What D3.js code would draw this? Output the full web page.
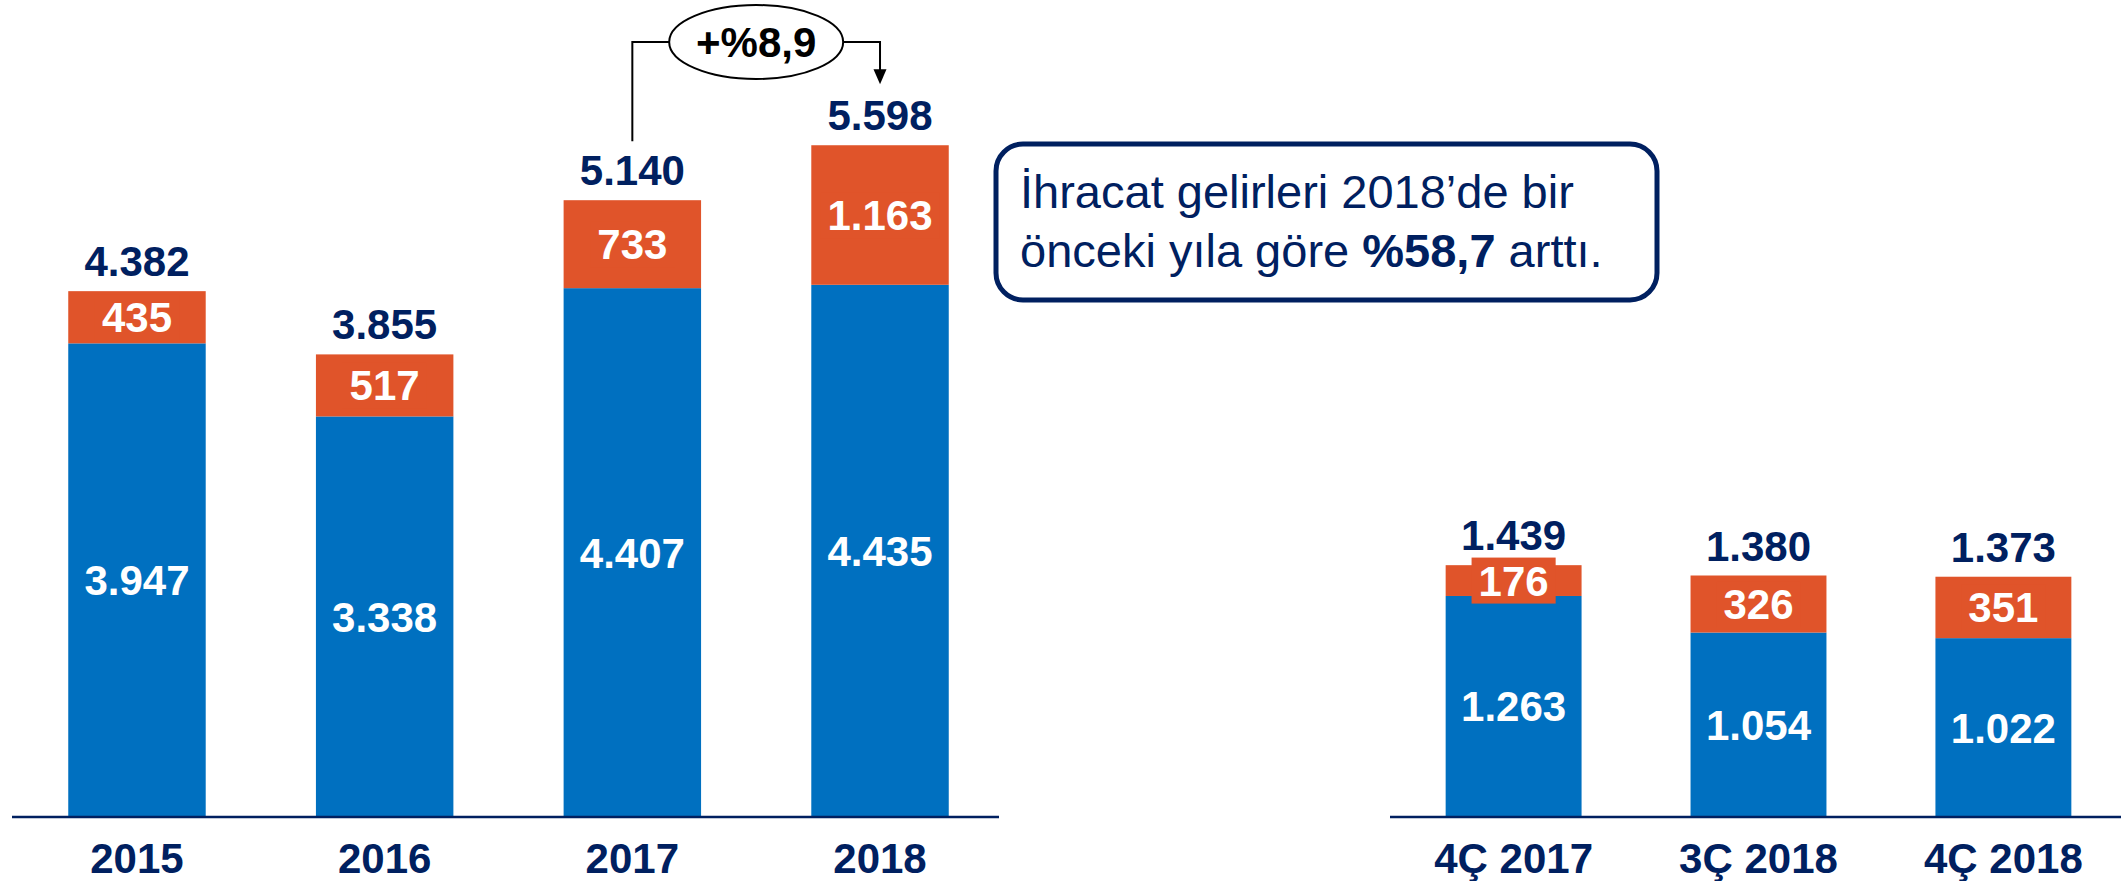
<!DOCTYPE html>
<html>
<head>
<meta charset="utf-8">
<script src="https://cdn.jsdelivr.net/npm/d3@7"></script>
<style>
  body { margin: 0; background: #fff; }
  svg text { font-family: "Liberation Sans", Arial, sans-serif; }
</style>
</head>
<body>
<div id="chart"></div>
<script>
// Yearly data
const years = ['2015', '2016', '2017', '2018']
const yearBlue = [3947, 3338, 4407, 4435]
const yearOrange = [435, 517, 733, 1163]
const yearTotal = [4382, 3855, 5140, 5598]

// Quarterly data
const quarters = ['4Ç 2017', '3Ç 2018', '4Ç 2018']
const quarterBlue = [1263, 1054, 1022]
const quarterOrange = [176, 326, 351]
const quarterTotal = [1439, 1380, 1373]

// Annotations
const growthLabel = '+%8,9'
const noteLine1 = 'İhracat gelirleri 2018’de bir'
const noteLine2 = ['önceki yıla göre ', '%58,7', ' arttı.']

const width = 2121
const height = 881
const navy = '#002060'
const blue = '#0070C0'
const orange = '#E0542A'
const baseline = 817

const tr = d3.formatLocale({decimal: ',', thousands: '.', grouping: [3], currency: ['', '']})
const fmt = tr.format(',')

const svg = d3.select('#chart').append('svg')
    .attr('width', width)
    .attr('height', height)

function drawPanel(cats, blueVals, orangeVals, totals, xRange, yScale, lineRange) {
    let x = d3.scaleBand()
        .domain(cats)
        .range(xRange)
        .paddingInner(0.445)
        .paddingOuter(0.215)

    let g = svg.append('g')
    let rows = cats.map((c, i) => ({cat: c, blue: blueVals[i], orange: orangeVals[i], total: totals[i]}))

    // blue segments
    g.selectAll('.blue').data(rows).join('rect')
        .attr('x', d => x(d.cat))
        .attr('width', x.bandwidth())
        .attr('y', d => yScale(d.blue))
        .attr('height', d => yScale(0) - yScale(d.blue))
        .attr('fill', blue)

    // orange segments
    g.selectAll('.orange').data(rows).join('rect')
        .attr('x', d => x(d.cat))
        .attr('width', x.bandwidth())
        .attr('y', d => yScale(d.blue + d.orange))
        .attr('height', d => yScale(d.blue) - yScale(d.blue + d.orange))
        .attr('fill', orange)

    // axis line
    g.append('line')
        .attr('x1', lineRange[0]).attr('x2', lineRange[1])
        .attr('y1', yScale(0)).attr('y2', yScale(0))
        .attr('stroke', navy).attr('stroke-width', 2.5)

    // blue value labels
    g.selectAll('.blue-lbl').data(rows).join('text')
        .attr('x', d => x(d.cat) + x.bandwidth() / 2)
        .attr('y', d => (yScale(0) + yScale(d.blue)) / 2 + 15)
        .attr('text-anchor', 'middle')
        .attr('font-size', 42).attr('font-weight', 'bold')
        .attr('fill', '#fff')
        .text(d => fmt(d.blue))

    // orange value labels, with a backing box
    let oy = d => (yScale(d.blue) + yScale(d.blue + d.orange)) / 2
    let ol = g.selectAll('.orange-lbl').data(rows).join('g')
    ol.append('text')
        .attr('x', d => x(d.cat) + x.bandwidth() / 2)
        .attr('y', d => oy(d) + 15)
        .attr('text-anchor', 'middle')
        .attr('font-size', 42).attr('font-weight', 'bold')
        .attr('fill', '#fff')
        .text(d => fmt(d.orange))
    ol.each(function(d) {
        let t = d3.select(this).select('text')
        let w = t.node().getComputedTextLength() + 14
        d3.select(this).insert('rect', 'text')
            .attr('x', x(d.cat) + x.bandwidth() / 2 - w / 2)
            .attr('width', w)
            .attr('y', oy(d) - 23)
            .attr('height', 46)
            .attr('fill', orange)
    })

    // totals
    g.selectAll('.total-lbl').data(rows).join('text')
        .attr('x', d => x(d.cat) + x.bandwidth() / 2)
        .attr('y', d => Math.min(yScale(d.total) - 15, oy(d) - 31))
        .attr('text-anchor', 'middle')
        .attr('font-size', 42).attr('font-weight', 'bold')
        .attr('fill', navy)
        .text(d => fmt(d.total))

    // category labels
    g.selectAll('.cat-lbl').data(rows).join('text')
        .attr('x', d => x(d.cat) + x.bandwidth() / 2)
        .attr('y', 873)
        .attr('text-anchor', 'middle')
        .attr('font-size', 42).attr('font-weight', 'bold')
        .attr('fill', navy)
        .text(d => d.cat)

    return x
}

// Left panel: years
let yYear = d3.scaleLinear().domain([0, 6000]).range([baseline, baseline - 720])
let xYear = drawPanel(years, yearBlue, yearOrange, yearTotal, [15, 1002], yYear, [12, 999])

// Right panel: quarters
let yQuarter = d3.scaleLinear().domain([0, 1500]).range([baseline, baseline - 262.5])
drawPanel(quarters, quarterBlue, quarterOrange, quarterTotal, [1393, 2124], yQuarter, [1390, 2121])

// Growth annotation between 2017 and 2018
let cx17 = xYear('2017') + xYear.bandwidth() / 2
let cx18 = xYear('2018') + xYear.bandwidth() / 2
let ex = (cx17 + cx18) / 2, ey = 42, erx = 87, ery = 37
let ann = svg.append('g')
ann.append('path')
    .attr('d', `M${cx17},${yYear(yearTotal[2]) - 59} V${ey} H${ex - erx}`)
    .attr('fill', 'none').attr('stroke', '#000').attr('stroke-width', 2)
ann.append('path')
    .attr('d', `M${ex + erx},${ey} H${cx18} V${yYear(yearTotal[3]) - 74}`)
    .attr('fill', 'none').attr('stroke', '#000').attr('stroke-width', 2)
let tipY = yYear(yearTotal[3]) - 61
ann.append('path')
    .attr('d', `M${cx18 - 6.5},${tipY - 15} L${cx18 + 6.5},${tipY - 15} L${cx18},${tipY} Z`)
    .attr('fill', '#000')
ann.append('ellipse')
    .attr('cx', ex).attr('cy', ey).attr('rx', erx).attr('ry', ery)
    .attr('fill', '#fff').attr('stroke', '#000').attr('stroke-width', 2)
ann.append('text')
    .attr('x', ex).attr('y', ey + 15)
    .attr('text-anchor', 'middle')
    .attr('font-size', 42).attr('font-weight', 'bold')
    .attr('fill', '#000')
    .text(growthLabel)

// Note box
let note = svg.append('g')
note.append('rect')
    .attr('x', 996).attr('y', 144)
    .attr('width', 661).attr('height', 156)
    .attr('rx', 27)
    .attr('fill', '#fff').attr('stroke', navy).attr('stroke-width', 5)
note.append('text')
    .attr('x', 1020).attr('y', 208)
    .attr('font-size', 47).attr('fill', navy)
    .text(noteLine1)
let l2 = note.append('text')
    .attr('x', 1020).attr('y', 267)
    .attr('font-size', 47).attr('fill', navy)
l2.selectAll('tspan').data(noteLine2).join('tspan')
    .attr('font-weight', (d, i) => i == 1 ? 'bold' : 'normal')
    .text(d => d)
</script>
</body>
</html>
